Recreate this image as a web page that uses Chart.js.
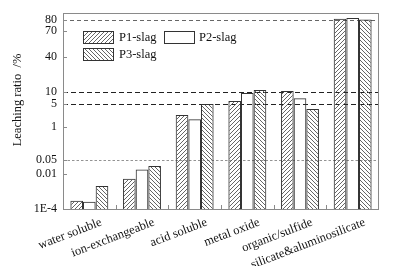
<!DOCTYPE html>
<html><head><meta charset="utf-8">
<script src="https://cdn.jsdelivr.net/npm/chart.js@4/dist/chart.umd.min.js"></script>
<style>html,body{margin:0;padding:0;background:#fff}#wrap{width:412px;height:266px;position:relative}</style>
</head><body><div id="wrap"><canvas id="c"></canvas></div>
<script>
const categories = ['water soluble','ion-exchangeable','acid soluble','metal oxide','organic/sulfide','silicate&aluminosilicate'];
const seriesNames = ['P1-slag','P2-slag','P3-slag'];
const p1Slag = [0.00033, 0.0057, 2.4, 5.9, 10.3, 80.8];
const p2Slag = [0.00028, 0.017, 1.8, 9.3, 7.0, 81.4];
const p3Slag = [0.0023, 0.025, 5.0, 10.8, 3.6, 80.3];
const yTickValues = [0.0001, 0.01, 0.05, 1, 5, 10, 40, 70, 80];
const yTickLabels = ['1E-4','0.01','0.05','1','5','10','40','70','80'];
const refLines = [80, 10, 5, 0.05];
const yMinPct = 0.0001, yMaxPct = 85;
const yTitle = 'Leaching ratio  /%';

// inverse normal CDF (Acklam)
function probit(p){
  const a=[-3.969683028665376e+01,2.209460984245205e+02,-2.759285104469687e+02,1.383577518672690e+02,-3.066479806614716e+01,2.506628277459239e+00];
  const b=[-5.447609879822406e+01,1.615858368580409e+02,-1.556989798598866e+02,6.680131188771972e+01,-1.328068155288572e+01];
  const c=[-7.784894002430293e-03,-3.223964580411365e-01,-2.400758277161838e+00,-2.549732539343734e+00,4.374664141464968e+00,2.938163982698783e+00];
  const d=[7.784695709041462e-03,3.224671290700398e-01,2.445134137142996e+00,3.754408661907416e+00];
  const pl=0.02425, ph=1-pl; let q,r;
  if(p<pl){q=Math.sqrt(-2*Math.log(p));return (((((c[0]*q+c[1])*q+c[2])*q+c[3])*q+c[4])*q+c[5])/((((d[0]*q+d[1])*q+d[2])*q+d[3])*q+1);}
  if(p<=ph){q=p-0.5;r=q*q;return (((((a[0]*r+a[1])*r+a[2])*r+a[3])*r+a[4])*r+a[5])*q/(((((b[0]*r+b[1])*r+b[2])*r+b[3])*r+b[4])*r+1);}
  q=Math.sqrt(-2*Math.log(1-p));return -(((((c[0]*q+c[1])*q+c[2])*q+c[3])*q+c[4])*q+c[5])/((((d[0]*q+d[1])*q+d[2])*q+d[3])*q+1);
}

class ProbabilityScale extends Chart.Scale {
  determineDataLimits(){ this.min = this.options.min; this.max = this.options.max; }
  buildTicks(){ return yTickValues.map(v => ({value: v})); }
  getLabelForValue(v){ return String(v); }
  configure(){ super.configure(); this._zMin = probit(this.min/100); this._zMax = probit(this.max/100); }
  getPixelForValue(v){
    const p = Math.min(Math.max(v, this.min), 99.9999);
    const z = probit(p/100);
    return this.getPixelForDecimal((z - this._zMin)/(this._zMax - this._zMin));
  }
  getPixelForTick(i){ return this.getPixelForValue(this.ticks[i].value); }
  getValueForPixel(px){
    const dec = this.getDecimalForPixel(px);
    const z = this._zMin + dec*(this._zMax - this._zMin);
    const t = 1/(1+0.2316419*Math.abs(z));
    const y = 0.3989423*Math.exp(-z*z/2)*t*(0.3193815+t*(-0.3565638+t*(1.781478+t*(-1.821256+t*1.330274))));
    return 100*(z>0 ? 1-y : y);
  }
}
ProbabilityScale.id = 'probability';
ProbabilityScale.defaults = {};
Chart.register(ProbabilityScale);

function hatch(dir){
  const s = 4, cv = document.createElement('canvas'); cv.width = s; cv.height = s;
  const g = cv.getContext('2d'); g.strokeStyle = '#555'; g.lineWidth = 0.9; g.beginPath();
  if(dir > 0){ g.moveTo(-1, s+1); g.lineTo(s+1, -1); g.moveTo(-1,1); g.lineTo(1,-1); g.moveTo(s-1,s+1); g.lineTo(s+1,s-1); }
  else { g.moveTo(-1,-1); g.lineTo(s+1,s+1); g.moveTo(s-1,-1); g.lineTo(s+1,1); g.moveTo(-1,s-1); g.lineTo(1,s+1); }
  g.stroke();
  return g.createPattern(cv, 'repeat');
}
const fills = [hatch(1), 'rgba(255,255,255,0)', hatch(-1)];
const serif = '"Liberation Serif", "Times New Roman", serif';

const decor = {
  id: 'decor',
  beforeDatasetsDraw(chart){
    const {ctx, chartArea: a, scales: {y}} = chart;
    ctx.save();
    refLines.forEach(v => {
      const py = Math.round(y.getPixelForValue(v)) + 0.5;
      if (v === 0.05){ ctx.strokeStyle = '#777'; ctx.setLineDash([2.5,2]); ctx.lineWidth = 0.8; }
      else if (v === 80){ ctx.strokeStyle = '#666'; ctx.setLineDash([4,3]); ctx.lineWidth = 1; }
      else { ctx.strokeStyle = '#222'; ctx.setLineDash([5,3]); ctx.lineWidth = 1; }
      ctx.beginPath(); ctx.moveTo(a.left, py); ctx.lineTo(a.right, py); ctx.stroke();
    });
    ctx.restore();
  },
  afterDatasetsDraw(chart){
    const {ctx, chartArea: a, scales: {x, y}} = chart;
    ctx.save();
    ctx.strokeStyle = '#8a8a8a'; ctx.lineWidth = 1; ctx.setLineDash([]);
    ctx.strokeRect(Math.round(a.left)+0.5, Math.round(a.top)+0.5, Math.round(a.right-a.left)-1, Math.round(a.bottom-a.top));
    ctx.beginPath();
    y.ticks.forEach(t => { const py = Math.round(y.getPixelForValue(t.value))+0.5; ctx.moveTo(a.left, py); ctx.lineTo(a.left+4, py); });
    for (let i = 1; i < categories.length; i++){
      const px = Math.round((x.getPixelForValue(i-1) + x.getPixelForValue(i))/2)+0.5;
      ctx.moveTo(px, a.bottom); ctx.lineTo(px, a.bottom-4);
    }
    ctx.stroke();
    const items = [
      {ds:0, bx:83, by:31, tx:119},
      {ds:1, bx:164, by:31, tx:199},
      {ds:2, bx:83, by:48, tx:119}
    ];
    ctx.font = '12.5px ' + serif; ctx.textBaseline = 'middle'; ctx.textAlign = 'left';
    items.forEach(it => {
      const ds = chart.data.datasets[it.ds];
      ctx.fillStyle = ds.backgroundColor; ctx.fillRect(it.bx, it.by, 31, 12);
      ctx.strokeStyle = '#333'; ctx.lineWidth = 1; ctx.strokeRect(it.bx+0.5, it.by+0.5, 30, 12);
      ctx.fillStyle = '#111'; ctx.fillText(ds.label, it.tx, it.by + 6.5);
    });
    ctx.translate(18, 100); ctx.rotate(-Math.PI/2);
    ctx.font = '12.5px ' + serif; ctx.textAlign = 'center'; ctx.fillStyle = '#111';
    ctx.fillText(yTitle, 0, 0);
    ctx.restore();
  }
};

const valueSets = [p1Slag, p2Slag, p3Slag];
new Chart(document.getElementById('c'), {
  type: 'bar',
  data: {
    labels: categories,
    datasets: seriesNames.map((n, i) => ({
      label: n, data: valueSets[i], base: yMinPct,
      backgroundColor: fills[i], borderColor: '#333', borderWidth: 1,
      categoryPercentage: 0.72, barPercentage: 1.0
    }))
  },
  options: {
    responsive: true, maintainAspectRatio: false, animation: false,
    devicePixelRatio: 1,
    layout: { padding: { left: 0, right: 33, top: 13, bottom: 0 } },
    plugins: { legend: { display: false }, tooltip: { enabled: false } },
    scales: {
      x: {
        type: 'category', offset: true,
        grid: { display: false, drawTicks: false }, border: { display: false },
        ticks: { maxRotation: 21, minRotation: 21, autoSkip: false, padding: 6, labelOffset: 12,
          color: '#111', font: { family: serif, size: 12.5 } },
        afterFit: s => { s.height = 57; }
      },
      y: {
        type: 'probability', min: yMinPct, max: yMaxPct,
        grid: { display: false, drawTicks: false }, border: { display: false },
        ticks: { padding: 6, color: '#111', font: { family: serif, size: 12 },
          callback: (v, i) => yTickLabels[i] },
        afterFit: s => { s.width = 63; }
      }
    }
  },
  plugins: [decor]
});
</script>
</body></html>
